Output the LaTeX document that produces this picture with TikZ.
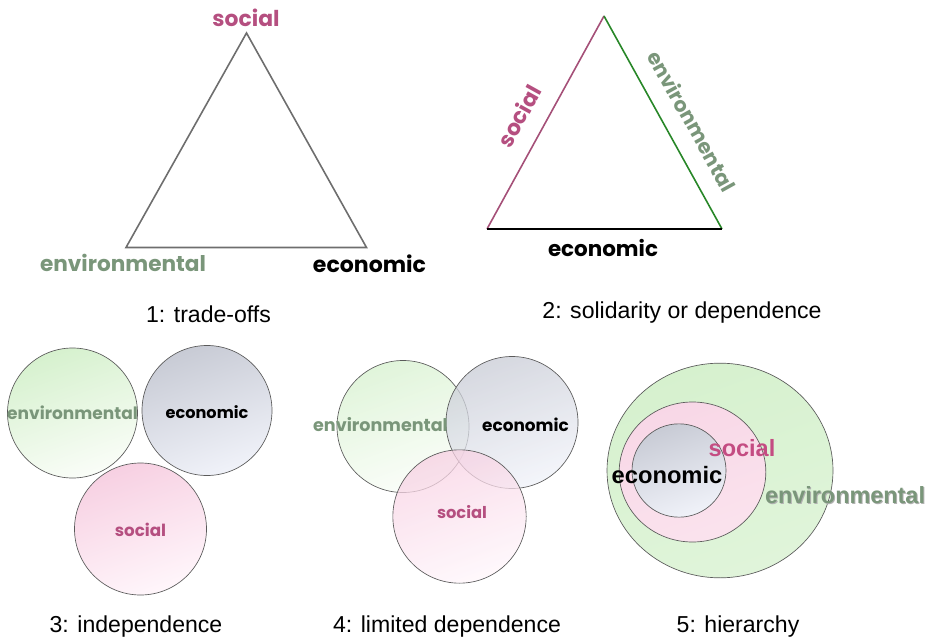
\documentclass[tikz,border=0pt]{standalone}
\usepackage{fontspec}
\setmainfont{Liberation Sans}
\newfontfamily\labfont{Poppins}
\newfontfamily\arialfont{Liberation Sans}
\usetikzlibrary{shapes.geometric}
\definecolor{socialc}{RGB}{181,79,128}
\definecolor{socialb}{RGB}{196,76,130}
\definecolor{envc}{RGB}{122,150,122}
\definecolor{envline}{RGB}{40,135,40}
\definecolor{socline}{RGB}{165,80,120}
\definecolor{trigray}{RGB}{110,110,110}
\definecolor{greenA}{RGB}{214,241,206}
\definecolor{greenB}{RGB}{250,253,248}
\definecolor{greyA}{RGB}{200,203,213}
\definecolor{greyB}{RGB}{240,242,249}
\definecolor{pinkA}{RGB}{247,208,226}
\definecolor{pinkB}{RGB}{255,246,251}
\definecolor{ringc}{RGB}{90,90,90}
\newcommand{\lab}[2]{\resizebox{#1}{!}{\labfont\bfseries #2}}
\newcommand{\labA}[2]{\resizebox{#1}{!}{\arialfont\bfseries #2}}
\begin{document}
\begin{tikzpicture}[x=0.75pt,y=-0.75pt,
  caption/.style={font=\fontsize{17.3}{20}\selectfont, inner sep=0pt},
  lbl/.style={inner sep=0pt},
  disc/.style={circle, draw=ringc, line width=0.5pt, inner sep=0pt, minimum size=#1},
  greenfill/.style={top color=greenA, bottom color=greenB, shading angle=20},
  greyfill/.style={top color=greyA, bottom color=greyB, shading angle=20},
  pinkfill/.style={top color=pinkA, bottom color=pinkB, shading angle=20}]
\useasboundingbox (0,0) rectangle (937,641);
% ---------- panel 1 ----------
\coordinate (t1s) at (246.5,33);
\coordinate (t1l) at (126,247.5);
\coordinate (t1r) at (366.5,247.5);
\draw[trigray, line width=1.2pt, line join=miter] (t1s) -- (t1r) -- (t1l) -- cycle;
\node[lbl, text=socialc] (p1soc) at (246,18) {\lab{50.3pt}{social}};
\node[lbl, text=envc] (p1env) at (123,263) {\lab{124.5pt}{environmental}};
\node[lbl, text=black] (p1eco) at (369.5,264) {\lab{84.8pt}{economic}};
\node[caption] (cap1) at (208.5,314) {1: trade-offs};
% ---------- panel 2 ----------
\coordinate (t2s) at (604,16);
\coordinate (t2l) at (487,229);
\coordinate (t2r) at (722,229);
\draw[socline, line width=1.2pt] (t2l) -- (t2s);
\draw[envline, line width=1.2pt] (t2s) -- (t2r);
\draw[black, line width=1.2pt] (t2l) -- (t2r);
\node[lbl, text=socialc, rotate=61] (p2soc) at (519,116) {\lab{50.3pt}{social}};
\node[lbl, text=envc, rotate=-61] (p2env) at (692,121) {\lab{118pt}{environmental}};
\node[lbl, text=black] (p2eco) at (603,248) {\lab{82.5pt}{economic}};
\node[caption] (cap2) at (682,313) {2: solidarity or dependence};
% ---------- panel 3 ----------
\node[disc=97.5pt, greenfill] (c3env) at (72.5,413) {};
\node[disc=97.5pt, greyfill] (c3eco) at (207,410.5) {};
\node[disc=99pt, pinkfill] (c3soc) at (140.5,529) {};
\node[lbl, text=envc] (l3env) at (c3env) {\lab{98pt}{environmental}};
\node[lbl, text=black] (l3eco) at ([yshift=-1pt]c3eco) {\lab{62pt}{economic}};
\node[lbl, text=socialc] (l3soc) at ([yshift=-1pt]c3soc) {\lab{38.5pt}{social}};
\node[caption] (cap3) at (136,627) {3: independence};
% ---------- panel 4 ----------
\begin{scope}[fill opacity=0.75]
\node[disc=99pt, greenfill] (c4env) at (403,426.5) {};
\node[disc=99pt, greyfill] (c4eco) at (512,422.5) {};
\node[disc=100pt, pinkfill] (c4soc) at (459.5,516.5) {};
\end{scope}
\node[lbl, text=envc] (l4env) at (380.5,425) {\lab{101pt}{environmental}};
\node[lbl, text=black] (l4eco) at (525.5,425) {\lab{65pt}{economic}};
\node[lbl, text=socialc] (l4soc) at (462,512) {\lab{37.5pt}{social}};
\node[caption] (cap4) at (447,627) {4: limited dependence};
% ---------- panel 5 ----------
\node[ellipse, draw=ringc, line width=0.5pt, inner sep=0pt, minimum width=169.5pt, minimum height=161pt, top color=greenA, bottom color=greenA!75!white, shading angle=20] (c5env) at (720,470.5) {};
\node[ellipse, draw=ringc, line width=0.5pt, inner sep=0pt, minimum width=110pt, minimum height=105pt, top color=pinkA!85!white, bottom color=pinkA!60!white, shading angle=20] (c5soc) at (692.5,472) {};
\node[ellipse, draw=ringc, line width=0.5pt, inner sep=0pt, minimum width=70.5pt, minimum height=70pt, top color=greyA, bottom color=greyB, shading angle=20] (c5eco) at (679,470.5) {};
\node[lbl, text=socialb] (l5soc) at (742,448) {\labA{50pt}{social}};
\node[lbl, text=black] (l5eco) at (667,475) {\labA{83pt}{economic}};
\node[lbl, text=gray!60] (l5envs) at (846,496.5) {\labA{120pt}{environmental}};
\node[lbl, text=envc] (l5env) at (845,495) {\labA{120pt}{environmental}};
\node[caption] (cap5) at (738,627) {5: hierarchy};
\end{tikzpicture}
\end{document}
